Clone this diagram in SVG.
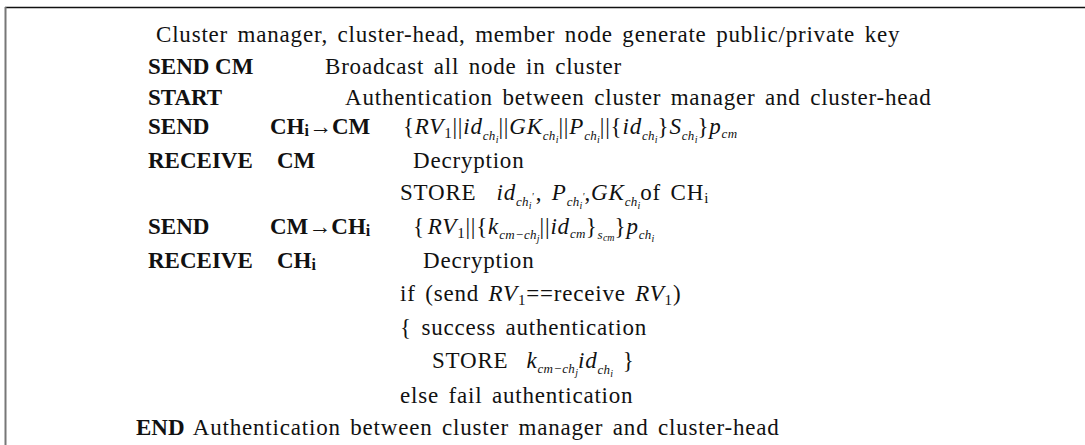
<svg xmlns="http://www.w3.org/2000/svg" width="1085" height="445" viewBox="0 0 1085 445">
  <style>
    text { font-family: "Liberation Serif", "Times New Roman", serif; font-size: 23px; fill: #111; letter-spacing: 0.8px; word-spacing: 3px; }
    .b { font-weight: bold; letter-spacing: 0; word-spacing: 0; }
    .i { font-style: italic; }
    .s { font-size: 15px; }
    .si { font-size: 13px; font-style: italic; letter-spacing: 0.3px; word-spacing: 0; }
    .ss { font-size: 10px; font-style: italic; letter-spacing: 0; }
  </style>
  <rect width="1085" height="445" fill="#fff"/>
  <!-- frame: top rule and left rule -->
  <g id="frame">
    <line x1="5" y1="7.5" x2="1085" y2="7.5" stroke="#111" stroke-width="1.5"/>
    <line x1="5.5" y1="7" x2="5.5" y2="445" stroke="#777" stroke-width="2"/>
  </g>

  <g id="line-keys">
    <text x="156" y="42">Cluster manager, cluster-head, member node generate public/private key</text>
  </g>
  <g id="line-send-cm">
    <text class="b" x="148" y="74">SEND CM</text>
    <text x="325" y="74">Broadcast all node in cluster</text>
  </g>
  <g id="line-start">
    <text class="b" x="148" y="105">START</text>
    <text x="345" y="105">Authentication between cluster manager and cluster-head</text>
  </g>
  <g id="line-send-ch">
    <text class="b" x="148" y="134">SEND</text>
    <text class="b" x="270" y="134">CH<tspan font-size="16" dy="2">i</tspan><tspan font-weight="normal" dy="-2">→</tspan>CM</text>
    <text x="403" y="134" letter-spacing="1.6">{<tspan class="i">RV</tspan><tspan class="s" dy="4">1</tspan><tspan dy="-4">||</tspan><tspan class="i">id</tspan><tspan class="si" dy="6">ch</tspan><tspan class="ss" dy="3">i</tspan><tspan dy="-9">||</tspan><tspan class="i">GK</tspan><tspan class="si" dy="6">ch</tspan><tspan class="ss" dy="3">i</tspan><tspan dy="-9">||</tspan><tspan class="i">P</tspan><tspan class="si" dy="6">ch</tspan><tspan class="ss" dy="3">i</tspan><tspan dy="-9">||{</tspan><tspan class="i">id</tspan><tspan class="si" dy="6">ch</tspan><tspan class="ss" dy="3">i</tspan><tspan dy="-9">}</tspan><tspan class="i">S</tspan><tspan class="si" dy="6">ch</tspan><tspan class="ss" dy="3">i</tspan><tspan dy="-9">}</tspan><tspan class="i">p</tspan><tspan class="si" dy="4">cm</tspan></text>
  </g>
  <g id="line-receive-cm">
    <text class="b" x="148" y="168">RECEIVE</text>
    <text class="b" x="277" y="168">CM</text>
    <text x="413" y="168">Decryption</text>
  </g>
  <g id="line-store-ch">
    <text x="400" y="200" letter-spacing="1.2">STORE<tspan class="i" dx="20">id</tspan><tspan class="si" dy="6">ch</tspan><tspan class="ss" dy="3">i</tspan><tspan class="ss" dy="-9" font-style="normal">'</tspan><tspan dx="2">, </tspan><tspan class="i">P</tspan><tspan class="si" dy="6">ch</tspan><tspan class="ss" dy="3">i</tspan><tspan class="ss" dy="-9" font-style="normal">'</tspan><tspan>,</tspan><tspan class="i">GK</tspan><tspan class="si" dy="6">ch</tspan><tspan class="ss" dy="3">i</tspan><tspan dy="-9">of CH</tspan><tspan class="s" dy="3">i</tspan></text>
  </g>
  <g id="line-send-cm-ch">
    <text class="b" x="148" y="234">SEND</text>
    <text class="b" x="270" y="234">CM<tspan font-weight="normal">→</tspan>CH<tspan font-size="16" dy="2">i</tspan></text>
    <text x="413" y="234" letter-spacing="1.6">{<tspan class="i" dx="3">RV</tspan><tspan class="s" dy="4">1</tspan><tspan dy="-4">||{</tspan><tspan class="i">k</tspan><tspan class="si" dy="5">cm−ch</tspan><tspan class="ss" dy="3">j</tspan><tspan dy="-8">||</tspan><tspan class="i">id</tspan><tspan class="si" dy="4">cm</tspan><tspan dy="-4">}</tspan><tspan class="si" dy="5">s</tspan><tspan class="ss" dy="2">cm</tspan><tspan dy="-7">}</tspan><tspan class="i">p</tspan><tspan class="si" dy="5">ch</tspan><tspan class="ss" dy="3">i</tspan></text>
  </g>
  <g id="line-receive-ch">
    <text class="b" x="148" y="268">RECEIVE</text>
    <text class="b" x="277" y="268">CH<tspan font-size="16" dy="2">i</tspan></text>
    <text x="423" y="268">Decryption</text>
  </g>
  <g id="line-if">
    <text x="400" y="301">if (send <tspan class="i">RV</tspan><tspan class="s" dy="4">1</tspan><tspan dy="-4">==receive </tspan><tspan class="i">RV</tspan><tspan class="s" dy="4">1</tspan><tspan dy="-4">)</tspan></text>
  </g>
  <g id="line-success">
    <text x="400" y="335">{ success authentication</text>
  </g>
  <g id="line-store-k">
    <text x="432" y="368">STORE<tspan class="i" dx="18">k</tspan><tspan class="si" dy="5">cm−ch</tspan><tspan class="ss" dy="3">j</tspan><tspan class="i" dy="-8">id</tspan><tspan class="si" dy="6">ch</tspan><tspan class="ss" dy="3">i</tspan><tspan dy="-9"> }</tspan></text>
  </g>
  <g id="line-else">
    <text x="400" y="403">else fail authentication</text>
  </g>
  <g id="line-end">
    <text x="136" y="435"><tspan class="b">END</tspan> Authentication between cluster manager and cluster-head</text>
  </g>
</svg>
